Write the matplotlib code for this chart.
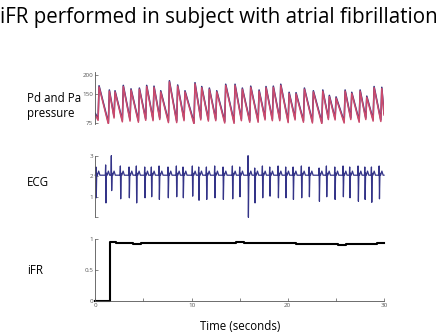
import matplotlib
matplotlib.use('Agg')
import matplotlib.pyplot as plt
import numpy as np

# pressure beats (mmHg): systolic peak time, peak and trough before the upstroke
peak_t = [0.39, 1.46, 2.05, 2.91, 3.71, 4.58, 5.34, 6.10, 6.80, 7.70, 8.56, 9.32, 10.36,
          11.06, 11.85, 12.62, 13.55, 14.52, 15.28, 16.15, 17.02, 17.74, 18.50, 19.27,
          20.14, 20.86, 21.73, 22.66, 23.64, 24.32, 25.02, 25.96, 26.65, 27.52, 28.21,
          28.97, 29.77]
pa_peak = [172, 161, 159, 173, 164, 166, 173, 171, 159, 185, 174, 159, 180, 170, 166, 159,
           176, 176, 166, 171, 161, 170, 171, 176, 155, 154, 166, 159, 161, 147, 143, 161,
           155, 161, 145, 170, 168]
pa_trough = [86, 76, 92, 82, 84, 81, 86, 85, 88, 80, 80, 85, 76, 87, 84, 85, 79, 78, 85,
             81, 81, 87, 85, 85, 80, 87, 81, 79, 77, 88, 87, 79, 88, 81, 88, 84, 83]
pd_peak = [169, 158, 156, 170, 161, 163, 170, 168, 156, 182, 171, 156, 177, 167, 163, 156,
           173, 173, 163, 168, 158, 167, 168, 173, 152, 151, 163, 156, 158, 144, 140, 158,
           152, 158, 142, 167, 165]
pd_trough = [82, 72, 88, 78, 80, 77, 82, 81, 84, 76, 76, 81, 72, 83, 80, 81, 75, 74, 81,
             77, 77, 83, 81, 81, 76, 83, 77, 75, 73, 84, 83, 75, 84, 77, 84, 80, 79]
pa_start, pa_end = 100, 100
pd_start, pd_end = 96, 96

# ECG beats (mV): QRS time, R height, S depth
ecg_t = [0.10, 1.11, 1.70, 2.64, 3.54, 4.30, 5.17, 5.86, 6.66, 7.59, 8.46, 9.15, 10.12,
         10.78, 11.58, 12.44, 13.31, 14.28, 15.04, 15.91, 16.60, 17.40, 18.16, 19.03,
         19.82, 20.59, 21.45, 22.25, 23.29, 24.05, 24.92, 25.78, 26.47, 27.34, 28.04,
         28.73, 29.53]
ecg_r = [2.45, 2.55, 3.0, 2.5, 2.45, 2.5, 2.45, 2.45, 2.5, 2.45, 2.5, 2.45, 2.5, 2.45,
         2.45, 2.5, 2.45, 2.5, 2.45, 3.0, 2.4, 2.5, 2.45, 2.5, 2.45, 2.45, 2.5, 2.45, 2.4,
         2.5, 2.45, 2.5, 2.45, 2.5, 2.45, 2.45, 2.5]
ecg_s = [0.95, 0.7, 1.3, 0.9, 0.95, 0.7, 0.95, 1.0, 0.87, 0.95, 1.0, 0.95, 1.03, 0.83,
         0.87, 0.95, 0.87, 0.9, 1.0, 0.0, 0.7, 0.95, 1.03, 0.95, 0.95, 0.87, 0.95, 1.0,
         0.78, 1.0, 0.87, 1.0, 0.95, 0.78, 0.87, 0.73, 0.9]
ecg_base = 2.05

# iFR step values
ifr_t = [0, 1.55, 2.15, 3.9, 4.8, 6.5, 10.5, 11.5, 14.6, 15.5, 20.9, 25.2, 26.0, 29.3, 29.9, 30]
ifr_v = [0, 0.96, 0.935, 0.925, 0.935, 0.94, 0.945, 0.935, 0.95, 0.94, 0.925, 0.91, 0.93,
         0.945, 0.935, 0.935]

UP = 0.1  # upstroke duration


def pressure_line(peaks, troughs, start, end):
    t, v = [0], [start]
    for pt, pk, tr in zip(peak_t, peaks, troughs):
        t += [pt - UP, pt]
        v += [tr, pk]
    t.append(30)
    v.append(end)
    return t, v


def ecg_line():
    t, v = [0], [ecg_base]
    for qt, r, s in zip(ecg_t, ecg_r, ecg_s):
        t += [qt - 0.07, qt - 0.035, qt, qt + 0.05, qt + 0.12, qt + 0.25, qt + 0.38]
        v += [ecg_base, r, s, ecg_base + 0.1, ecg_base, ecg_base + 0.2, ecg_base]
    t.append(30)
    v.append(ecg_base)
    return t, v


W, H = 445, 336
fig = plt.figure(figsize=(W / 100, H / 100), dpi=100)
plt.rcParams['font.family'] = ['Open Sans', 'DejaVu Sans']

x0, x1 = 95.3, 384


def add_ax(top, bottom):
    return fig.add_axes([x0 / W, 1 - bottom / H, (x1 - x0) / W, (bottom - top) / H])


def style(ax, xaxis=False):
    for s in ['top', 'right']:
        ax.spines[s].set_visible(False)
    ax.spines['left'].set_color('#555555')
    ax.spines['left'].set_linewidth(0.6)
    ax.tick_params(direction='in', length=2, width=0.5, labelsize=4.5,
                   colors='#555555', pad=1.5)
    if not xaxis:
        ax.spines['bottom'].set_visible(False)
        ax.set_xticks([])
    ax.set_xlim(0, 30)


ax1 = add_ax(72, 124)
style(ax1)
t, v = pressure_line(pa_peak, pa_trough, pa_start, pa_end)
ax1.plot(t, v, color='#2b2f7f', lw=1.1)
t, v = pressure_line(pd_peak, pd_trough, pd_start, pd_end)
ax1.plot(t, v, color='#cc4a6c', lw=1.1)
ax1.set_ylim(72.4, 207.8)
ax1.set_yticks([75, 150, 200])

ax2 = add_ax(155.7, 217.3)
style(ax2)
t, v = ecg_line()
ax2.plot(t, v, color='#343488', lw=0.9, clip_on=False)
ax2.set_ylim(0, 3)
ax2.set_yticks([0, 1, 2, 3])
ax2.set_yticklabels(['', '1', '2', '3'])

ax3 = add_ax(239.3, 301)
style(ax3, xaxis=True)
ax3.spines['bottom'].set_color('#555555')
ax3.spines['bottom'].set_linewidth(0.6)
ax3.plot(ifr_t, ifr_v, color='black', lw=1.5, drawstyle='steps-post', clip_on=False)
ax3.set_ylim(0, 1)
ax3.set_yticks([0, 0.5, 1])
ax3.set_yticklabels(['0', '0.5', '1'])
ax3.set_xticks([0, 10, 20, 30])
ax3.set_xticks([5, 15, 25], minor=True)
ax3.tick_params(which='minor', direction='in', length=2, width=0.5, colors='#555555')

fig.text(0.0, 1 - 18 / H, 'iFR performed in subject with atrial fibrillation',
         fontsize=14.8, va='center', ha='left')
fig.text(27 / W, 1 - 106 / H, 'Pd and Pa\npressure', fontsize=8.3, va='center',
         ha='left', linespacing=1.3)
fig.text(27 / W, 1 - 182 / H, 'ECG', fontsize=8.3, va='center', ha='left')
fig.text(27 / W, 1 - 270 / H, 'iFR', fontsize=8.3, va='center', ha='left')
fig.text(240 / W, 1 - 326 / H, 'Time (seconds)', fontsize=8.3, va='center', ha='center')

fig.savefig('out.png', dpi=100)
